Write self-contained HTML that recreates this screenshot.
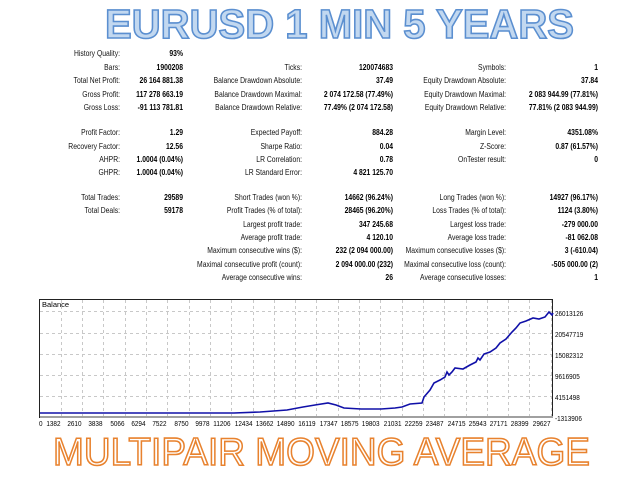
<!DOCTYPE html>
<html><head><meta charset="utf-8"><style>
html,body{margin:0;padding:0;background:#fff;}
svg{display:block;}
.l{font-family:"Liberation Sans",sans-serif;font-size:8.5px;fill:#111;}
.v{font-family:"Liberation Sans",sans-serif;font-size:8.5px;font-weight:bold;fill:#000;}
.ax{font-family:"Liberation Sans",sans-serif;font-size:7.5px;fill:#000;}
</style></head><body>
<svg width="640" height="480" viewBox="0 0 640 480" xmlns="http://www.w3.org/2000/svg">
<rect width="640" height="480" fill="#fff"/>
<text x="105" y="38" textLength="469" lengthAdjust="spacingAndGlyphs" font-family="Liberation Sans, sans-serif" font-weight="bold" font-size="41" fill="#c2d8f0" stroke="#5b8fd0" stroke-width="1.6">EURUSD 1 MIN 5 YEARS</text>

<g transform="scale(0.8,1)" text-anchor="end">
<text class="l" x="150" y="56">History Quality:</text><text class="v" x="228.75" y="56">93%</text>
<text class="l" x="150" y="70">Bars:</text><text class="v" x="228.75" y="70">1900208</text>
<text class="l" x="377.5" y="70">Ticks:</text><text class="v" x="491.25" y="70">120074683</text>
<text class="l" x="632.5" y="70">Symbols:</text><text class="v" x="747.5" y="70">1</text>
<text class="l" x="150" y="83">Total Net Profit:</text><text class="v" x="228.75" y="83">26 164 881.38</text>
<text class="l" x="377.5" y="83">Balance Drawdown Absolute:</text><text class="v" x="491.25" y="83">37.49</text>
<text class="l" x="632.5" y="83">Equity Drawdown Absolute:</text><text class="v" x="747.5" y="83">37.84</text>
<text class="l" x="150" y="97">Gross Profit:</text><text class="v" x="228.75" y="97">117 278 663.19</text>
<text class="l" x="377.5" y="97">Balance Drawdown Maximal:</text><text class="v" x="491.25" y="97">2 074 172.58 (77.49%)</text>
<text class="l" x="632.5" y="97">Equity Drawdown Maximal:</text><text class="v" x="747.5" y="97">2 083 944.99 (77.81%)</text>
<text class="l" x="150" y="110">Gross Loss:</text><text class="v" x="228.75" y="110">-91 113 781.81</text>
<text class="l" x="377.5" y="110">Balance Drawdown Relative:</text><text class="v" x="491.25" y="110">77.49% (2 074 172.58)</text>
<text class="l" x="632.5" y="110">Equity Drawdown Relative:</text><text class="v" x="747.5" y="110">77.81% (2 083 944.99)</text>

<text class="l" x="150" y="135">Profit Factor:</text><text class="v" x="228.75" y="135">1.29</text>
<text class="l" x="377.5" y="135">Expected Payoff:</text><text class="v" x="491.25" y="135">884.28</text>
<text class="l" x="632.5" y="135">Margin Level:</text><text class="v" x="747.5" y="135">4351.08%</text>
<text class="l" x="150" y="149">Recovery Factor:</text><text class="v" x="228.75" y="149">12.56</text>
<text class="l" x="377.5" y="149">Sharpe Ratio:</text><text class="v" x="491.25" y="149">0.04</text>
<text class="l" x="632.5" y="149">Z-Score:</text><text class="v" x="747.5" y="149">0.87 (61.57%)</text>
<text class="l" x="150" y="162">AHPR:</text><text class="v" x="228.75" y="162">1.0004 (0.04%)</text>
<text class="l" x="377.5" y="162">LR Correlation:</text><text class="v" x="491.25" y="162">0.78</text>
<text class="l" x="632.5" y="162">OnTester result:</text><text class="v" x="747.5" y="162">0</text>
<text class="l" x="150" y="175">GHPR:</text><text class="v" x="228.75" y="175">1.0004 (0.04%)</text>
<text class="l" x="377.5" y="175">LR Standard Error:</text><text class="v" x="491.25" y="175">4 821 125.70</text>

<text class="l" x="150" y="200">Total Trades:</text><text class="v" x="228.75" y="200">29589</text>
<text class="l" x="377.5" y="200">Short Trades (won %):</text><text class="v" x="491.25" y="200">14662 (96.24%)</text>
<text class="l" x="632.5" y="200">Long Trades (won %):</text><text class="v" x="747.5" y="200">14927 (96.17%)</text>
<text class="l" x="150" y="213">Total Deals:</text><text class="v" x="228.75" y="213">59178</text>
<text class="l" x="377.5" y="213">Profit Trades (% of total):</text><text class="v" x="491.25" y="213">28465 (96.20%)</text>
<text class="l" x="632.5" y="213">Loss Trades (% of total):</text><text class="v" x="747.5" y="213">1124 (3.80%)</text>
<text class="l" x="377.5" y="227">Largest profit trade:</text><text class="v" x="491.25" y="227">347 245.68</text>
<text class="l" x="632.5" y="227">Largest loss trade:</text><text class="v" x="747.5" y="227">-279 000.00</text>
<text class="l" x="377.5" y="240">Average profit trade:</text><text class="v" x="491.25" y="240">4 120.10</text>
<text class="l" x="632.5" y="240">Average loss trade:</text><text class="v" x="747.5" y="240">-81 062.08</text>
<text class="l" x="377.5" y="253">Maximum consecutive wins ($):</text><text class="v" x="491.25" y="253">232 (2 094 000.00)</text>
<text class="l" x="632.5" y="253">Maximum consecutive losses ($):</text><text class="v" x="747.5" y="253">3 (-610.04)</text>
<text class="l" x="377.5" y="267">Maximal consecutive profit (count):</text><text class="v" x="491.25" y="267">2 094 000.00 (232)</text>
<text class="l" x="632.5" y="267">Maximal consecutive loss (count):</text><text class="v" x="747.5" y="267">-505 000.00 (2)</text>
<text class="l" x="377.5" y="280">Average consecutive wins:</text><text class="v" x="491.25" y="280">26</text>
<text class="l" x="632.5" y="280">Average consecutive losses:</text><text class="v" x="747.5" y="280">1</text>
</g>

<!-- chart -->
<g stroke="#c8c8c8" stroke-width="1" stroke-dasharray="3,3">
<line x1="40" y1="311.5" x2="553" y2="311.5"/>
<line x1="40" y1="333.5" x2="553" y2="333.5"/>
<line x1="40" y1="354.5" x2="553" y2="354.5"/>
<line x1="40" y1="375.5" x2="553" y2="375.5"/>
<line x1="40" y1="396.5" x2="553" y2="396.5"/>
</g>
<g stroke="#c8c8c8" stroke-width="1" stroke-dasharray="3,3" id="vg"></g>
<rect x="39.5" y="299.5" width="513" height="118" fill="none" stroke="#222" stroke-width="1"/>
<rect x="40" y="416" width="513" height="2" fill="#a0a0a0"/>
<text class="ax" x="42" y="307">Balance</text>
<polyline fill="none" stroke="#1010a8" stroke-width="1.6" points="40,413 234,413 260,412 287,410 303,407 315,405 328,403 336,405 344,408 361,409 381,409 395,408 402,407 410,404 422,403 424,397 430,390 434,383 440,380 445,377 447,372 449,375 452,372 455,368 463,369 470,365 476,362 478,358 480,360 484,354 490,352 496,348 500,343 506,339 512,332 516,328 520,323 526,321 533,318 539,319 545,317 549,312 552,315 553,313"/>
<g class="ax" text-anchor="start" transform="scale(0.85,1)">
<text x="652.9" y="316">26013126</text>
<text x="652.9" y="337">20547719</text>
<text x="652.9" y="358">15082312</text>
<text x="652.9" y="379">9616905</text>
<text x="652.9" y="400">4151498</text>
<text x="652.9" y="421">-1313906</text>
</g>
<g class="ax" text-anchor="end" id="xl" transform="scale(0.85,1)"><text x="50" y="426">0</text></g>

<text x="53" y="465" textLength="537" lengthAdjust="spacingAndGlyphs" font-family="Liberation Sans, sans-serif" font-size="39" fill="#fff" stroke="#e8822e" stroke-width="1.6">MULTIPAIR MOVING AVERAGE</text>
</svg>
<script>
var labs=["0","1382","2610","3838","5066","6294","7522","8750","9978","11206","12434","13662","14890","16119","17347","18575","19803","21031","22259","23487","24715","25943","27171","28399","29627"];
var vg=document.getElementById("vg"),xl=document.getElementById("xl"),ns="http://www.w3.org/2000/svg";
for(var k=1;k<=24;k++){var x=Math.round(39.5+21.3*k)+0.5;
var l=document.createElementNS(ns,"line");l.setAttribute("x1",x);l.setAttribute("x2",x);l.setAttribute("y1",300);l.setAttribute("y2",416);vg.appendChild(l);
var t=document.createElementNS(ns,"text");t.setAttribute("x",(x-1)/0.85);t.setAttribute("y",426);t.textContent=labs[k];xl.appendChild(t);}
</script>
</body></html>
